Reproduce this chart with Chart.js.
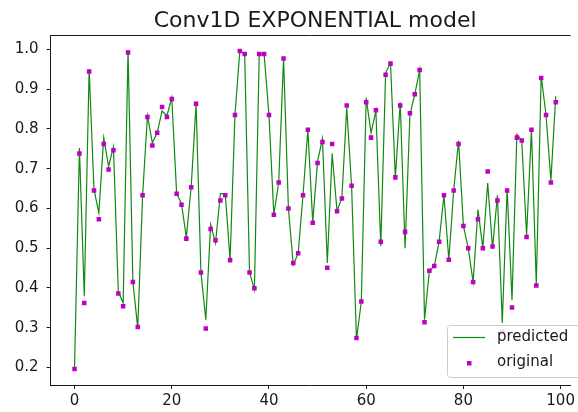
<!DOCTYPE html>
<html>
<head>
<meta charset="utf-8">
<script src="https://cdn.jsdelivr.net/npm/chart.js@4.4.0/dist/chart.umd.min.js"></script>
<style>
  body { margin: 0; background: #fff; }
  canvas { display: block; }
</style>
</head>
<body>
<canvas id="modelChart" width="578" height="412"></canvas>
<script>
// Series values, one per step 0..99
const original = [
    0.196, 0.738, 0.362, 0.944, 0.645, 0.573, 0.762, 0.698, 0.746, 0.386,
    0.354, 0.992, 0.415, 0.302, 0.633, 0.830, 0.758, 0.790, 0.855, 0.830,
    0.875, 0.637, 0.609, 0.524, 0.653, 0.863, 0.439, 0.298, 0.548, 0.520,
    0.620, 0.633, 0.470, 0.835, 0.996, 0.988, 0.439, 0.399, 0.988, 0.988,
    0.835, 0.584, 0.665, 0.977, 0.600, 0.463, 0.487, 0.633, 0.798, 0.564,
    0.714, 0.767, 0.451, 0.762, 0.593, 0.625, 0.859, 0.657, 0.274, 0.366,
    0.867, 0.778, 0.847, 0.516, 0.936, 0.964, 0.678, 0.859, 0.541, 0.839,
    0.887, 0.948, 0.314, 0.443, 0.455, 0.516, 0.633, 0.471, 0.645, 0.762,
    0.556, 0.500, 0.415, 0.573, 0.500, 0.693, 0.504, 0.620, 0.290, 0.645,
    0.351, 0.778, 0.771, 0.528, 0.798, 0.406, 0.928, 0.835, 0.665, 0.867
];
const predicted = [
    0.201, 0.752, 0.379, 0.950, 0.647, 0.589, 0.778, 0.706, 0.755, 0.391,
    0.362, 0.998, 0.415, 0.299, 0.633, 0.833, 0.765, 0.790, 0.845, 0.833,
    0.878, 0.638, 0.612, 0.527, 0.655, 0.863, 0.439, 0.320, 0.559, 0.513,
    0.637, 0.637, 0.470, 0.835, 0.996, 0.988, 0.439, 0.396, 0.988, 0.988,
    0.835, 0.584, 0.665, 0.977, 0.600, 0.458, 0.487, 0.633, 0.798, 0.566,
    0.719, 0.775, 0.463, 0.738, 0.593, 0.627, 0.853, 0.655, 0.270, 0.366,
    0.878, 0.790, 0.845, 0.505, 0.941, 0.966, 0.677, 0.867, 0.500, 0.836,
    0.887, 0.948, 0.320, 0.443, 0.455, 0.516, 0.633, 0.471, 0.645, 0.770,
    0.556, 0.500, 0.415, 0.597, 0.500, 0.664, 0.500, 0.633, 0.312, 0.650,
    0.370, 0.786, 0.771, 0.533, 0.798, 0.408, 0.933, 0.835, 0.670, 0.882
];
const xTicks = [0, 20, 40, 60, 80, 100];
const yTicks = [0.2, 0.3, 0.4, 0.5, 0.6, 0.7, 0.8, 0.9, 1.0];
const titleText = 'Conv1D EXPONENTIAL model';

const FONT = "'DejaVu Sans', sans-serif";
const INK = '#1a1a1a';
const LINE_GREEN = '#108a10';
const DOT_MAGENTA = '#c000c0';

const toPoints = arr => arr.map((v, i) => ({ x: i, y: v }));

// title, top spine and the boxed legend in the lower right
const decorations = {
    id: 'decorations',
    afterDraw(chart) {
        const { ctx, chartArea } = chart;
        const xs = chart.scales.x;
        ctx.save();

        // top spine
        ctx.strokeStyle = INK;
        ctx.lineWidth = 1;
        ctx.beginPath();
        ctx.moveTo(chartArea.left, chartArea.top + 0.5);
        ctx.lineTo(chartArea.right, chartArea.top + 0.5);
        ctx.stroke();

        // title centred over the full axes (which run past the right edge)
        const axesRight = xs.getPixelForValue(103.95);
        ctx.fillStyle = INK;
        ctx.font = '22px ' + FONT;
        ctx.textAlign = 'center';
        ctx.textBaseline = 'alphabetic';
        ctx.fillText(titleText, (chartArea.left + axesRight) / 2, 27);

        // legend box
        const bx = 447, by = 325, bw = 140, bh = 52;
        ctx.fillStyle = 'rgba(255,255,255,0.8)';
        ctx.strokeStyle = '#cccccc';
        ctx.beginPath();
        ctx.roundRect(bx + 0.5, by + 0.5, bw, bh, 3);
        ctx.fill();
        ctx.stroke();

        const sets = chart.data.datasets;
        ctx.strokeStyle = sets[0].borderColor;
        ctx.lineWidth = sets[0].borderWidth;
        ctx.beginPath();
        ctx.moveTo(453, 337.5);
        ctx.lineTo(485, 337.5);
        ctx.stroke();

        ctx.fillStyle = sets[1].pointBackgroundColor;
        ctx.fillRect(467, 361, 4.5, 4.5);

        ctx.fillStyle = INK;
        ctx.font = '15px ' + FONT;
        ctx.textAlign = 'left';
        ctx.textBaseline = 'middle';
        ctx.fillText(sets[0].label, 497, 337);
        ctx.fillText(sets[1].label, 497, 362);
        ctx.restore();
    }
};

const ctx = document.getElementById('modelChart').getContext('2d');
const modelChart = new Chart(ctx, {
    type: 'line',
    data: {
        datasets: [{
            label: 'predicted',
            data: toPoints(predicted),
            borderColor: LINE_GREEN,
            borderWidth: 1.2,
            pointRadius: 0,
            tension: 0,
            fill: false,
            order: 1
        }, {
            label: 'original',
            data: toPoints(original),
            showLine: false,
            pointStyle: 'rect',
            pointRadius: 3.2,
            pointBorderWidth: 0,
            pointBackgroundColor: DOT_MAGENTA,
            pointBorderColor: DOT_MAGENTA,
            order: 0
        }]
    },
    options: {
        responsive: false,
        animation: false,
        layout: { padding: { top: 35, right: 0, left: 0, bottom: 0 } },
        plugins: {
            legend: { display: false },
            title: { display: false },
            tooltip: { enabled: false }
        },
        scales: {
            x: {
                type: 'linear',
                min: -4.95,
                max: 102.05,
                afterFit: s => { s.height = 27; },
                afterBuildTicks: s => { s.ticks = xTicks.map(v => ({ value: v })); },
                grid: { drawOnChartArea: false, tickLength: 4, tickColor: INK },
                border: { display: true, color: INK, width: 1 },
                ticks: {
                    color: INK,
                    font: { family: FONT, size: 15 },
                    padding: 3,
                    maxRotation: 0,
                    callback: v => String(v)
                }
            },
            y: {
                type: 'linear',
                min: 0.156,
                max: 1.036,
                afterFit: s => { s.width = 50.5; },
                afterBuildTicks: s => { s.ticks = yTicks.map(v => ({ value: v })); },
                grid: { drawOnChartArea: false, tickLength: 4, tickColor: INK },
                border: { display: true, color: INK, width: 1 },
                ticks: {
                    color: INK,
                    font: { family: FONT, size: 15 },
                    padding: 8,
                    callback: v => v.toFixed(1)
                }
            }
        }
    },
    plugins: [decorations]
});
</script>
</body>
</html>
